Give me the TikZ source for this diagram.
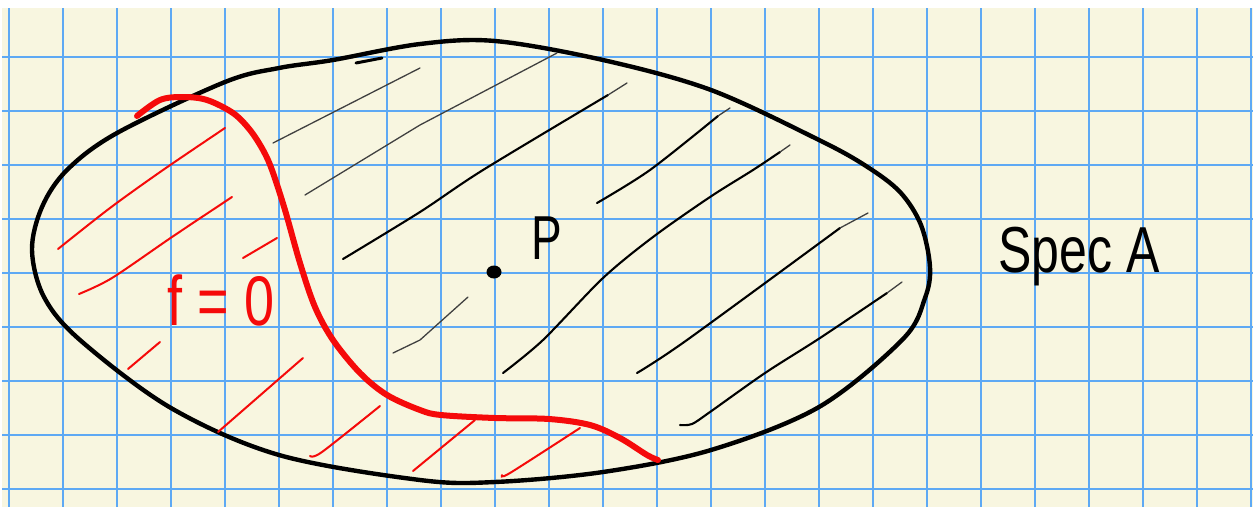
\documentclass[tikz,border=0pt]{standalone}
\usepackage{fontspec}
\setmainfont{Liberation Sans}
\definecolor{paper}{HTML}{F8F6E0}
\definecolor{gridblue}{HTML}{5EA9F4}
\definecolor{inkred}{HTML}{F50A0A}
\begin{document}
\begin{tikzpicture}[x=1pt,y=-1pt,
  outline/.style={line width=4.4pt, line cap=round, line join=round},
  hatch/.style={line width=2.1pt, line cap=round},
  thinhatch/.style={line width=1.3pt, line cap=round, black!75},
  redhatch/.style={line width=2pt, line cap=round, inkred},
  redcurve/.style={line width=6pt, inkred, line cap=round, line join=round},
  gridline/.style={gridblue, line width=2.6pt}]
\useasboundingbox (0,0) rectangle (1255,507);
\fill[paper] (2,8) rectangle (1253,507);
\foreach \k in {0,...,23} \draw[gridline] ({9+54*\k},8) -- ({9+54*\k},507);
\foreach \k in {0,...,8} \draw[gridline] (2,{57+54*\k}) -- (1253,{57+54*\k});

% outline of Spec A
\draw[outline] plot[smooth cycle, tension=0.55] coordinates {
 (32,250) (44,297) (80,340) (171,408) (279,455) (420,480) (495,482) (603,472)
 (711,450) (819,407) (903,339) (925,298) (930,267) (921,225) (900,192) (866,166)
 (819,140) (711,90) (603,60) (495,41) (420,44) (333,60) (279,68) (225,82)
 (117,133) (67,170) (42,207)};
\draw[outline, line width=3pt] (356,63) -- (382,58);

% black hatching
\draw[thinhatch] (273,143) -- (420,68);
\draw[thinhatch] (305,195) -- (420,125) -- (557,53);
\draw[hatch] plot[smooth] coordinates {(343,259) (420,212) (483,170) (608,95)};
\draw[thinhatch] (608,95) -- (627,83);
\draw[hatch] plot[smooth] coordinates {(597,203) (650,170) (718,116)};
\draw[thinhatch] (718,116) -- (730,108);
\draw[hatch] plot[smooth] coordinates {(503,373) (543,340) (603,278) (653,237) (710,197) (753,170) (780,152)};
\draw[thinhatch] (780,152) -- (790,145);
\draw[thinhatch] (393,353) -- (420,340) -- (468,297);
\draw[hatch] plot[smooth] coordinates {(637,373) (687,340) (840,228)};
\draw[thinhatch] (840,228) -- (868,213);
\draw[hatch] plot[smooth] coordinates {(680,425) (692,424) (710,412) (765,373) (820,338) (887,293)};
\draw[thinhatch] (887,293) -- (902,282);

% red hatching
\draw[redhatch] plot[smooth] coordinates {(58,249) (110,208) (163,170) (225,128)};
\draw[redhatch] plot[smooth] coordinates {(79,294) (112,278) (172,237) (232,197)};
\draw[redhatch] (243,258) -- (277,238);
\draw[redhatch] (128,369) -- (160,342);
\draw[redhatch] (218,432) -- (303,358);
\draw[redhatch] plot[smooth] coordinates {(310,456) (322,452) (380,406)};
\draw[redhatch] (413,471) -- (475,420);
\draw[redhatch] plot[smooth] coordinates {(502,475) (510,473) (580,428)};

% red curve f=0
\draw[redcurve] plot[smooth, tension=0.55] coordinates {
 (137,116) (160,100) (183,97) (207,100) (233,113) (250,130) (263,150) (272,170)
 (285,210) (300,263) (315,307) (333,340) (360,373) (387,395) (420,410)
 (441,415) (495,418) (549,419) (590,425) (620,438) (647,455) (658,460)};

% point P
\fill[black] (494,272) ellipse [x radius=7.5pt, y radius=6.5pt];

% labels
\node[font=\fontsize{46}{50}\selectfont] (plabel) at (547,238) {\scalebox{1}[1.35]{P}};
\node[font=\fontsize{50}{60}\selectfont] (spec) at (1079,257) {\scalebox{1}[1.3]{Spec A}};
\node[inkred, font=\fontsize{54}{60}\selectfont] (fzero) at (221,300) {\scalebox{1}[1.3]{f = 0}};
\end{tikzpicture}
\end{document}
